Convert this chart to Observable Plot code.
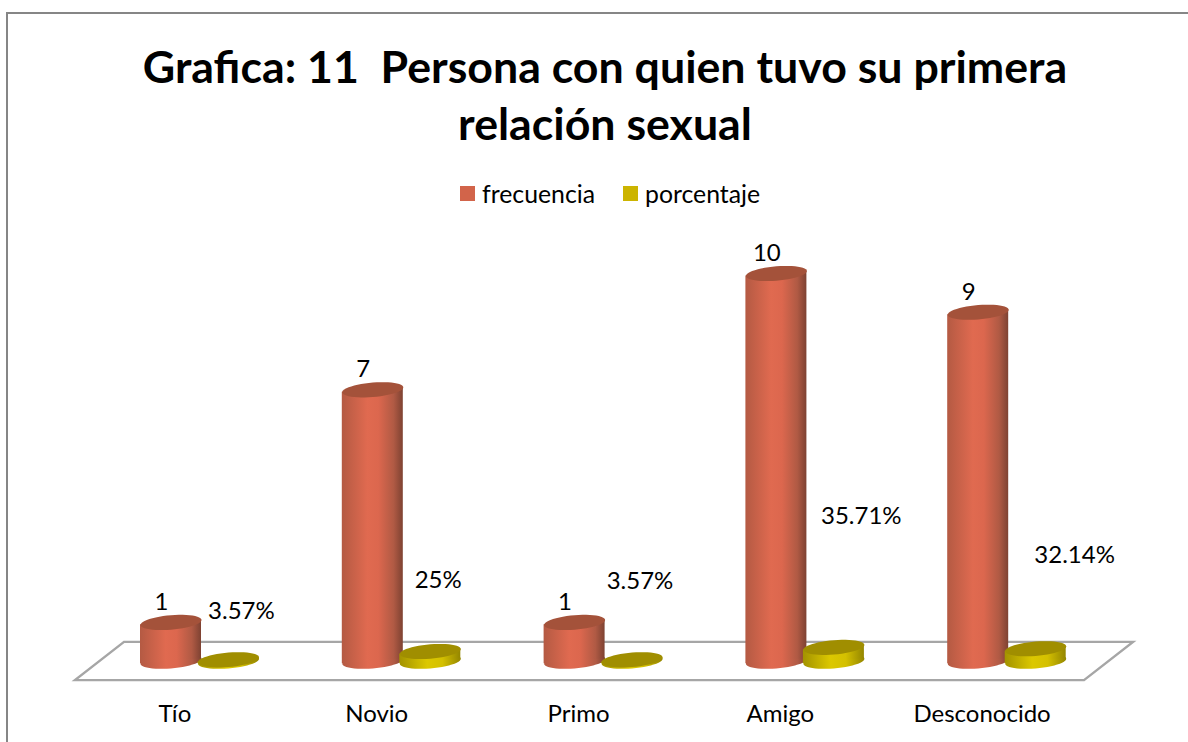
<!DOCTYPE html>
<html><head><meta charset="utf-8">
<script src="https://cdn.jsdelivr.net/npm/d3@7"></script>
<script src="https://cdn.jsdelivr.net/npm/@observablehq/plot@0.6"></script>
<style>
html,body{margin:0;padding:0;background:#fff}
#page{position:relative;width:1188px;height:742px;overflow:hidden;font-family:Lato,sans-serif;color:#000}
#frame{position:absolute;left:6px;top:12px;width:1200px;height:760px;border:2px solid #868686;box-sizing:border-box}
#head{position:relative;height:225px}
#title{position:absolute;left:105px;width:1000px;top:38px;text-align:center;font-weight:700;font-size:44.7px;line-height:57px;margin:0}
#legend{position:absolute;left:460px;top:180px;display:flex;align-items:center;font-size:24.8px;line-height:28px;white-space:nowrap}
#legend i{display:inline-block;width:15px;height:15px;margin-right:7px;margin-top:-2px}
#legend span{margin-right:28px}
svg{display:block;overflow:visible}
</style></head><body>
<div id="page"><div id="frame"></div>
<div id="head">
<h1 id="title">Grafica: 11&nbsp; Persona con quien tuvo su primera<br>relación sexual</h1>
<div id="legend"><i style="background:#d2644a"></i><span>frecuencia</span><i style="background:#ccb400"></i><span style="margin:0">porcentaje</span></div>
</div>
<div id="chart"></div></div>
<script>
const categories = ["Tío", "Novio", "Primo", "Amigo", "Desconocido"];
const frecuencia = [1, 7, 1, 10, 9];
const porcentaje = [0.0357, 0.25, 0.0357, 0.3571, 0.3214];
const pctLabels = ["3.57%", "25%", "3.57%", "35.71%", "32.14%"];

const table = categories.map((c, i) => ({c, f: frecuencia[i], p: porcentaje[i], pl: pctLabels[i]}));

// layout (pixels relative to the band and value)
const pctOffsets = [[65, -49], [60, -71], [60, -79], [79.5, -131], [91, -93.5]];
const W = 1188, H = 517;

const ellipse = {draw(ctx) {
  // a sheared ellipse: the 3D perspective of the cylinder caps
  const a = 30.5, b = 7.2, s = -0.08, n = 48;
  for (let i = 0; i <= n; i++) {
    const t = i / n * 2 * Math.PI, X = a * Math.cos(t), Y = b * Math.sin(t) + s * X;
    i ? ctx.lineTo(X, Y) : ctx.moveTo(X, Y);
  }
  ctx.closePath();
}};

const floor = (index, {x, y}) => {
  const left = x(categories[0]), step = x(categories[1]) - left;
  const right = left + step * categories.length, depth = 49;
  const pts = [[left, y(-0.5)], [right, y(-0.5)], [right + depth, y(0.485)], [left + depth, y(0.485)]];
  const g = d3.create("svg:g");
  g.append("path").attr("d", d3.line()(pts) + "Z").attr("fill", "#fff")
    .attr("stroke", "#a6a6a6").attr("stroke-width", 2.4).attr("stroke-linejoin", "miter").attr("stroke-miterlimit", 10);
  return g.node();
};

const cylinder = (value, bodyFill, topFill, insetLeft, insetRight, cls) => {
  const dx = (insetLeft - insetRight) / 2;
  return [
    Plot.dot(table, {x: "c", y: () => 0, symbol: ellipse, r: 30, fill: bodyFill, stroke: "none", dx}),
    Plot.barY(table, {x: "c", y: value, fill: bodyFill, insetLeft, insetRight, className: cls}),
    Plot.dot(table, {x: "c", y: value, symbol: ellipse, r: 30, fill: topFill, stroke: "none", dx})
  ];
};

const plot = Plot.plot({
  width: W, height: H,
  marginTop: 0, marginLeft: 0, marginRight: 0, marginBottom: 40,
  style: {fontFamily: "Lato, sans-serif", background: "transparent", overflow: "visible"},
  x: {type: "band", domain: categories, range: [75, 1084], padding: 0, round: false, label: null},
  y: {domain: [0, 10], range: [435.7, 48], axis: null, label: null},
  marks: [
    floor,
    ...cylinder("f", "url(#redGrad)", "#a4523a", 65, 75.8, "cyl"),
    Plot.text(table, {x: "c", y: "f", text: d => String(d.f), dx: -15, dy: -20, fontSize: 24, fill: "#000"}),
    ...cylinder("p", "url(#yelGrad)", "#a08e00", 122.5, 18.3, "cyl"),
    ...table.map((d, i) => Plot.text([d], {x: "c", y: "p", text: "pl", dx: pctOffsets[i][0], dy: pctOffsets[i][1], fontSize: 24, fill: "#000"})),
    Plot.axisX({anchor: "bottom", tickSize: 0, tickPadding: 2, fontSize: 24, fill: "#000", label: null, dx: -1.5})
  ]
});

const defs = d3.select(plot).insert("defs", ":first-child");
const grad = (id, stops) => {
  const g = defs.append("linearGradient").attr("id", id);
  stops.forEach(([o, c]) => g.append("stop").attr("offset", o).attr("stop-color", c));
};
grad("redGrad", [[0, "#b45a43"], [0.42, "#e06a50"], [0.6, "#dc674e"], [0.85, "#b05a44"], [1, "#7e4232"]]);
grad("yelGrad", [[0, "#a39300"], [0.45, "#dcc800"], [0.7, "#d4c000"], [1, "#948600"]]);

// shear the cylinder bodies so their ends follow the tilted caps
d3.select(plot).selectAll(".cyl rect, rect.cyl").each(function() {
  const r = d3.select(this), cx = +r.attr("x") + r.attr("width") / 2, cy = +r.attr("y") + r.attr("height") / 2;
  r.attr("transform", `translate(${cx},${cy}) skewY(${-Math.atan(0.08) * 180 / Math.PI}) translate(${-cx},${-cy})`);
});

document.getElementById("chart").append(plot);
</script></body></html>
